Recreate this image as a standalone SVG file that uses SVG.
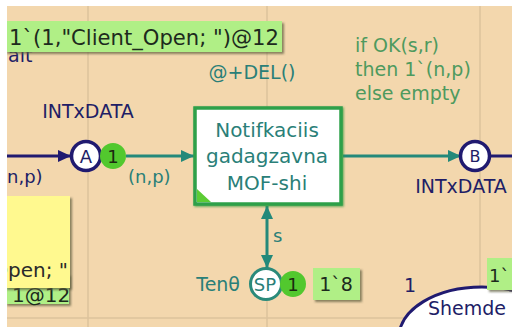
<svg xmlns="http://www.w3.org/2000/svg" width="512" height="327" viewBox="0 0 512 327">
  <defs>
    <style>
      .t{font-family:"DejaVu Sans",Verdana,sans-serif}
      .navy{fill:#211d66}
      .teal{fill:#2a7f78}
      .cond{fill:#4e9a5e}
      .mark{fill:#b0ef86}
      .token{fill:#52c82e}
      .placeN{fill:#fff;stroke:#201a70;stroke-width:3.5}
      .placeT{fill:#fff;stroke:#2a8a7a;stroke-width:3}
      .arcN{stroke:#201a70;stroke-width:3;fill:none}
      .arcT{stroke:#23897a;stroke-width:3;fill:none}
      .grid{stroke:#dcc39c;stroke-width:1.5}
    </style>
    <marker id="hN" markerUnits="userSpaceOnUse" markerWidth="14" markerHeight="14" refX="13" refY="7" orient="auto">
      <path d="M0,1 L13,7 L0,13 Z" fill="#201a70"/>
    </marker>
    <marker id="hT" markerUnits="userSpaceOnUse" markerWidth="14" markerHeight="14" refX="13" refY="7" orient="auto">
      <path d="M0,1 L13,7 L0,13 Z" fill="#23897a"/>
    </marker>
    <marker id="hTs" markerUnits="userSpaceOnUse" markerWidth="14" markerHeight="14" refX="13" refY="7" orient="auto-start-reverse">
      <path d="M0,1 L13,7 L0,13 Z" fill="#23897a"/>
    </marker>
    <filter id="sh" x="-10%" y="-10%" width="130%" height="140%">
      <feDropShadow dx="2" dy="2" stdDeviation="1" flood-color="#5a5a3a" flood-opacity="0.7"/>
    </filter>
    <filter id="glow" x="-10%" y="-10%" width="120%" height="120%">
      <feDropShadow dx="1" dy="1" stdDeviation="1.2" flood-color="#3a9a40" flood-opacity="0.8"/>
    </filter>
    <clipPath id="page"><rect x="7" y="6" width="505" height="321"/></clipPath>
  </defs>

  <rect width="512" height="327" fill="#fff"/>

  <g clip-path="url(#page)">
    <!-- page background and layout grid -->
    <rect x="7" y="6" width="505" height="321" fill="#f3d7ad"/>
    <g id="grid">
      <line class="grid" x1="88" y1="6" x2="88" y2="327"/>
      <line class="grid" x1="267" y1="6" x2="267" y2="327"/>
      <line class="grid" x1="480" y1="6" x2="480" y2="327"/>
      <line class="grid" x1="7" y1="318" x2="512" y2="318"/>
    </g>

    <!-- connectors -->
    <g id="connectors">
      <line class="arcN" x1="0" y1="156" x2="71" y2="156" marker-end="url(#hN)"/>
      <line class="arcT" x1="126" y1="156" x2="194" y2="156" marker-end="url(#hT)"/>
      <line class="arcT" x1="343" y1="156" x2="461" y2="156" marker-end="url(#hT)"/>
      <line class="arcN" x1="489" y1="156" x2="512" y2="156"/>
      <line class="arcT" x1="267" y1="206" x2="267" y2="268" marker-start="url(#hTs)" marker-end="url(#hTs)"/>
      <text class="t navy" x="0" y="183" font-size="18">(n,p)</text>
      <text class="t teal" x="128" y="183" font-size="18">(n,p)</text>
      <text class="t teal" x="273" y="242" font-size="18">s</text>
    </g>

    <!-- initial marking label of the input place -->
    <g id="initMarking">
      <text class="t navy" x="8" y="62" font-size="19">ait</text>
      <rect x="5" y="21" width="277" height="31" class="mark" filter="url(#sh)"/>
      <text class="t" x="9" y="45" font-size="21" fill="#1d2a1d" textLength="270" lengthAdjust="spacingAndGlyphs">1`(1,"Client_Open; ")@12</text>
    </g>

    <!-- time and guard inscriptions -->
    <text id="delay" class="t teal" x="252" y="79" font-size="19" text-anchor="middle">@+DEL()</text>
    <g id="guard" class="t cond" font-size="19">
      <text x="355" y="52">if OK(s,r)</text>
      <text x="355" y="76">then 1`(n,p)</text>
      <text x="355" y="100">else empty</text>
    </g>

    <!-- place A -->
    <g id="placeA">
      <text class="t navy" x="88" y="118" font-size="19" text-anchor="middle">INTxDATA</text>
      <circle class="placeN" cx="86" cy="156" r="14.5"/>
      <text class="t navy" x="86" y="163" font-size="18" text-anchor="middle">A</text>
      <circle class="token" cx="113" cy="156" r="13"/>
      <text class="t" x="113" y="163" font-size="18" text-anchor="middle" fill="#1b2a10">1</text>
    </g>

    <!-- transition -->
    <g id="transition">
      <rect x="195" y="108" width="146" height="96" fill="#fff" stroke="#2ea04a" stroke-width="3.5" filter="url(#glow)"/>
      <path d="M197,189 L197,202 L211,202 Z" fill="#5ccc34"/>
      <g class="t teal" font-size="20" text-anchor="middle">
        <text x="267" y="137">Notifkaciis</text>
        <text x="267" y="163">gadagzavna</text>
        <text x="267" y="190">MOF-shi</text>
      </g>
    </g>

    <!-- place B -->
    <g id="placeB">
      <circle class="placeN" cx="475" cy="156" r="14.5"/>
      <text class="t navy" x="475" y="162" font-size="16" text-anchor="middle">B</text>
      <text class="t navy" x="461" y="193" font-size="19" text-anchor="middle">INTxDATA</text>
    </g>

    <!-- place SP -->
    <g id="placeSP">
      <text class="t teal" x="240" y="291" font-size="19" text-anchor="end">Tenθ</text>
      <circle class="placeT" cx="266" cy="284" r="15.5"/>
      <text class="t teal" x="265" y="291" font-size="18" text-anchor="middle">SP</text>
      <circle class="token" cx="293" cy="284" r="13"/>
      <text class="t" x="293" y="291" font-size="18" text-anchor="middle" fill="#1b2a10">1</text>
      <rect x="313" y="268" width="47" height="32" class="mark" filter="url(#sh)"/>
      <text class="t" x="336" y="291" font-size="19" text-anchor="middle" fill="#1d2a1d">1`8</text>
    </g>

    <!-- lower-left note and marking -->
    <g id="noteLeft">
      <rect x="5" y="274" width="64" height="30" class="mark" filter="url(#sh)"/>
      <text class="t" x="12" y="302" font-size="20" fill="#1d2a1d">1@12</text>
      <rect x="5" y="196" width="65" height="92" fill="#fff98f" filter="url(#sh)"/>
      <text class="t" x="68" y="277" font-size="20" fill="#2a2a2a" text-anchor="end">Open; "</text>
    </g>

    <!-- lower-right place -->
    <g id="placeShemde">
      <text class="t navy" x="410" y="292" font-size="19" text-anchor="middle">1</text>
      <ellipse cx="482" cy="337" rx="83" ry="50" fill="#fff" stroke="#201a70" stroke-width="3"/>
      <text class="t navy" x="428" y="315" font-size="19">Shemde</text>
      <rect x="487" y="258" width="30" height="32" class="mark" filter="url(#sh)"/>
      <text class="t" x="489" y="282" font-size="18" fill="#1d2a1d">1`</text>
    </g>
  </g>
</svg>
